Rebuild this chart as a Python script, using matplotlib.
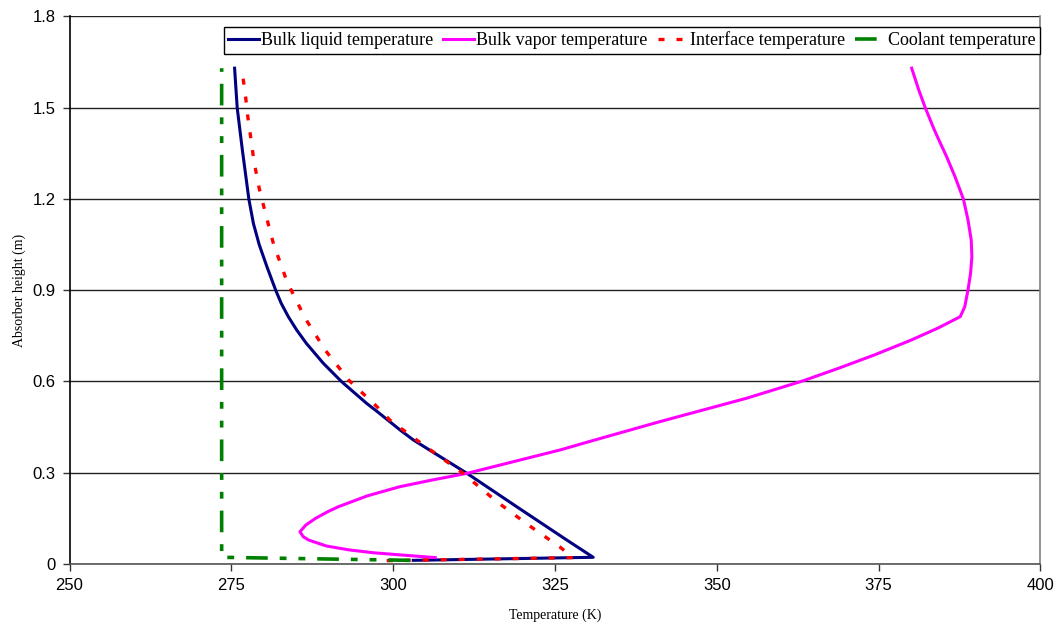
import matplotlib
matplotlib.use("Agg")
import matplotlib.pyplot as plt
from matplotlib.ticker import FixedLocator, FuncFormatter

# Temperature profiles along the absorber (T in K, height in m)
liquid_T = [303.1, 330.9, 326.8, 319.1, 311.4, 303.1, 301.1, 297.6, 295.9, 292.0,
            289.2, 286.6, 285.1, 283.8, 282.7, 281.85, 280.5, 279.3, 278.4, 277.7,
            276.7, 275.9, 275.5]
liquid_h = [0.012, 0.022, 0.079, 0.188, 0.298, 0.408, 0.440, 0.500, 0.528, 0.600,
            0.660, 0.725, 0.769, 0.813, 0.857, 0.900, 0.977, 1.050, 1.120, 1.200,
            1.361, 1.500, 1.630]

vapor_T = [306.5, 301.0, 296.9, 293.3, 289.7, 286.9, 286.1, 285.6, 286.5, 288.0,
           289.9, 291.5, 296.0, 301.0, 306.0, 311.4, 325.8, 331.2, 341.2, 354.6,
           363.3, 369.0, 374.3, 380.0, 384.1, 387.6, 388.3, 388.8, 389.2, 389.4,
           389.3, 388.8, 388.1, 386.8, 385.5, 384.3, 383.5, 382.2, 381.2, 380.1]
vapor_h = [0.021, 0.030, 0.037, 0.046, 0.059, 0.079, 0.090, 0.106, 0.128, 0.150,
           0.172, 0.188, 0.224, 0.254, 0.276, 0.298, 0.375, 0.408, 0.468, 0.545,
           0.602, 0.645, 0.687, 0.736, 0.775, 0.813, 0.846, 0.901, 0.956, 1.010,
           1.065, 1.131, 1.199, 1.273, 1.339, 1.394, 1.432, 1.500, 1.558, 1.630]

interface_T = [299.0, 327.8, 325.8, 320.9, 316.0, 310.8, 303.6, 299.5, 297.5, 293.2,
               289.5, 286.4, 283.6, 281.5, 280.4, 279.3, 278.5, 277.9, 277.5, 277.2,
               276.6]
interface_h = [0.011, 0.021, 0.055, 0.128, 0.205, 0.298, 0.408, 0.473, 0.517, 0.603,
               0.703, 0.808, 0.928, 1.053, 1.142, 1.235, 1.323, 1.416, 1.476, 1.536,
               1.630]

coolant_T = [302.6, 273.5, 273.5]
coolant_h = [0.012, 0.022, 1.630]

series_labels = ["Bulk liquid temperature", "Bulk vapor temperature",
                 "Interface temperature", "Coolant temperature"]

x_ticks = [250, 275, 300, 325, 350, 375, 400]
y_ticks = [0, 0.3, 0.6, 0.9, 1.2, 1.5, 1.8]

fig = plt.figure(figsize=(10.6, 6.27), dpi=100)
ax = fig.add_axes([0.0656, 0.1005, 0.9160, 0.8732])

ax.plot(liquid_T, liquid_h, color="#000080", lw=2.2, label=series_labels[0],
        solid_joinstyle="round")
ax.plot(vapor_T, vapor_h, color="#FF00FF", lw=2.2, label=series_labels[1],
        solid_joinstyle="round")
ax.plot(interface_T, interface_h, color="#FF0000", lw=2.4, label=series_labels[2],
        dashes=(1.8, 3.6), dash_capstyle="butt")
ax.plot(coolant_T, coolant_h, color="#008000", lw=2.6, label=series_labels[3],
        dashes=(6.0, 3.3, 1.9, 3.3, 1.9, 3.3), dash_capstyle="butt")

ax.set_xlim(250, 400)
ax.set_ylim(0, 1.8)
ax.xaxis.set_major_locator(FixedLocator(x_ticks))
ax.yaxis.set_major_locator(FixedLocator(y_ticks))
ax.yaxis.set_major_formatter(FuncFormatter(lambda v, p: "0" if v == 0 else f"{v:.1f}"))
ax.xaxis.set_major_formatter(FuncFormatter(lambda v, p: f"{v:.0f}"))

ax.grid(axis="y", color="#222222", lw=1.0)
ax.set_axisbelow(True)

for lab in ax.get_xticklabels() + ax.get_yticklabels():
    lab.set_fontfamily("Liberation Sans")
    lab.set_fontsize(12)
ax.tick_params(axis="both", direction="out", length=5, width=1, color="#333333",
               pad=5)

ax.spines["top"].set_visible(False)
ax.spines["left"].set_color("#000000")
ax.spines["bottom"].set_color("#555555")
ax.spines["right"].set_color("#808080")
for s in ax.spines.values():
    s.set_linewidth(1.2)

ax.set_xlabel("Temperature (K)", fontfamily="Liberation Serif", fontsize=10,
              labelpad=11)
ax.set_ylabel("Absorber height (m)", fontfamily="Liberation Serif", fontsize=10,
              labelpad=5)

leg = ax.legend(loc="upper right", bbox_to_anchor=(1.0, 0.981), ncol=4,
                prop={"family": "Liberation Serif", "size": 13},
                frameon=True, fancybox=False, shadow=False, framealpha=1,
                edgecolor="#000000", handlelength=1.7, handletextpad=0.12,
                columnspacing=0.55, borderpad=0.25, borderaxespad=0.0)
leg.get_frame().set_linewidth(1.0)

fig.savefig("out.png", dpi=100)
